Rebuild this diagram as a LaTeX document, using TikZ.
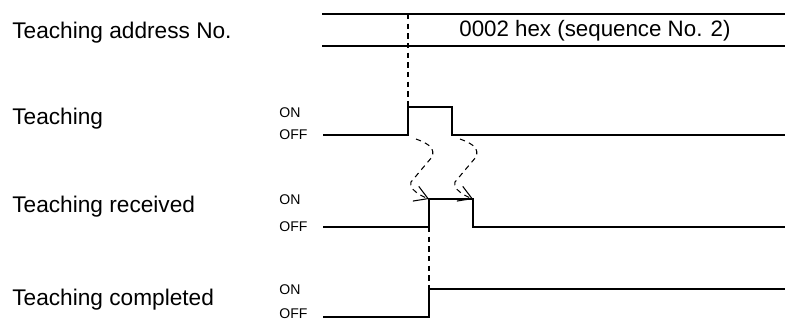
\documentclass[tikz,border=0pt]{standalone}
\usepackage{fontspec}
\setmainfont{Liberation Sans}
\usetikzlibrary{arrows.meta}

\begin{document}
\begin{tikzpicture}[
    x=0.02cm, y=-0.02cm,
    every node/.style={inner sep=0pt},
    sig/.style={font=\fontsize{12.9}{15}\selectfont, anchor=base west},
    lvl/.style={font=\fontsize{8}{9}\selectfont, anchor=west},
    wave/.style={line width=1.1pt},
    guide/.style={line width=0.6pt, dash pattern=on 3pt off 2.5pt},
    causal/.style={guide, -{Straight Barb[length=7.5pt,width=9pt]}}
  ]
    \useasboundingbox (0,0) rectangle (785,321);

    % signal names
    \node[sig] (addr) at (12,38) {Teaching address No.};
    \node[sig] (teach) at (12,124) {Teaching};
    \node[sig] (recv) at (12,212) {Teaching received};
    \node[sig] (done) at (12,305) {Teaching completed};

    % ON/OFF levels
    \node[lvl] (teach_on) at (279,113) {ON};
    \node[lvl] (teach_off) at (279,135) {OFF};
    \node[lvl] (recv_on) at (279,200) {ON};
    \node[lvl] (recv_off) at (279,227) {OFF};
    \node[lvl] (done_on) at (279,290) {ON};
    \node[lvl] (done_off) at (279,314) {OFF};

    % address bus
    \coordinate (bus_a) at (322,14);
    \coordinate (bus_b) at (322,46);
    \draw[wave] (bus_a) -- (785,14);
    \draw[wave] (bus_b) -- (785,46);
    \node[font=\fontsize{12.7}{15}\selectfont] (addr_val) at (595,31) {0002 hex (sequence No. 2)};

    % waveforms
    \coordinate (t_up) at (408,135);
    \coordinate (t_on) at (408,107);
    \coordinate (t_dn) at (452,135);
    \coordinate (r_lo) at (429,227);
    \coordinate (r_up) at (429,199);
    \coordinate (r_dn) at (473,199);
    \coordinate (c_lo) at (429,317);
    \coordinate (c_up) at (429,289);

    \draw[wave] (323,135) -- (t_up) -- (t_on) -- (452,107) -- (t_dn) -- (785,135);
    \draw[wave] (323,227) -- (r_lo) -- (r_up) -- (r_dn) -- (473,227) -- (785,227);
    \draw[wave] (323,317) -- (c_lo) -- (c_up) -- (785,289);

    % timing guides
    \draw[guide] (408,14) -- (t_on);
    \draw[guide] (r_lo) -- (c_up);

    \draw[causal] ([shift={(8,4)}]t_up) .. controls +(14,5) and +(3,-8) .. ++(16,18)
      -- ++(-21,25) .. controls +(-2,7) and +(-10,-4) .. (r_up);
    \draw[causal] ([shift={(8,4)}]t_dn) .. controls +(14,5) and +(3,-8) .. ++(16,18)
      -- ++(-21,25) .. controls +(-2,7) and +(-10,-4) .. (r_dn);
  \end{tikzpicture}
\end{document}
